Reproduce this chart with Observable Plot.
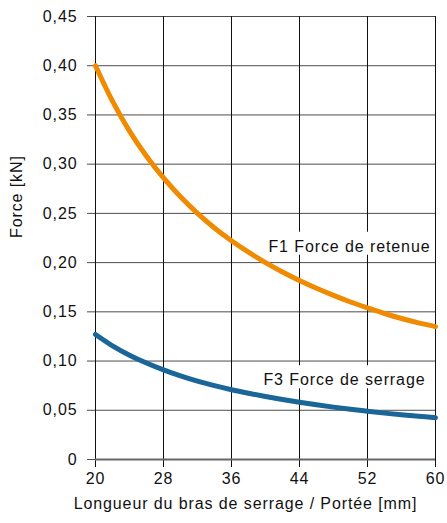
<!DOCTYPE html>
<html><head><meta charset="utf-8">
<script src="https://cdn.jsdelivr.net/npm/d3@7"></script>
<script src="https://cdn.jsdelivr.net/npm/@observablehq/plot@0.6"></script>
<style>
body{margin:0;background:#fff}
svg text{letter-spacing:0.9px}
</style></head><body><div id="chart"></div>
<script>
const lengths = [20,22,24,26,28,30,32,34,36,38,40,42,44,46,48,50,52,54,56,58,60];
const f1 = [0.4000,0.3640,0.3335,0.3080,0.2860,0.2668,0.2500,0.2352,0.2222,0.2106,0.2000,0.1905,0.1818,0.1739,0.1667,0.1600,0.1540,0.1483,0.1432,0.1388,0.1350];
const f3 = [0.1270,0.1155,0.1060,0.0980,0.0910,0.0850,0.0796,0.0750,0.0709,0.0673,0.0640,0.0610,0.0582,0.0556,0.0532,0.0510,0.0490,0.0471,0.0454,0.0439,0.0425];
const seriesNames = ["F1 Force de retenue","F3 Force de serrage"];
const seriesColors = ["#f08a00","#1b6699"];
const xTicks = [20,28,36,44,52,60];
const yTicks = [0,0.05,0.10,0.15,0.20,0.25,0.30,0.35,0.40,0.45];
const xLabel = "Longueur du bras de serrage / Portée [mm]";
const yLabel = "Force [kN]";

const font = "'Liberation Sans', Arial, Helvetica, sans-serif";
const s1 = lengths.map((x,i)=>({x, y:f1[i], s:seriesNames[0]}));
const s3 = lengths.map((x,i)=>({x, y:f3[i], s:seriesNames[1]}));
const fmt = d => d === 0 ? "0" : d.toFixed(2).replace(".", ",");

const chart = Plot.plot({
  width: 447, height: 523,
  marginLeft: 95, marginRight: 12, marginTop: 16, marginBottom: 64,
  style: {fontFamily: font, fontSize: "16px", color: "#111", background: "#fff"},
  x: {domain: [20, 60]},
  y: {domain: [0, 0.45]},
  marks: [
    Plot.gridY(yTicks, {stroke: "#4d4d4d", strokeOpacity: 1}),
    Plot.gridX(xTicks, {stroke: "#111", strokeOpacity: 1}),
    Plot.axisY(yTicks, {tickSize: 8, tickPadding: 10, tickFormat: fmt, stroke: "#4d4d4d", label: null, fontSize: 16, fontFamily: font, fill: "#111"}),
    Plot.axisX(xTicks, {tickSize: 8, tickPadding: 5, stroke: "#111", label: null, fontSize: 16, fontFamily: font, fill: "#111"}),
    Plot.ruleY([0], {stroke: "#666", strokeWidth: 2}),
    Plot.line(s1, {x: "x", y: "y", stroke: seriesColors[0], strokeWidth: 5, curve: "catmull-rom"}),
    Plot.line(s3, {x: "x", y: "y", stroke: seriesColors[1], strokeWidth: 5, curve: "catmull-rom"}),
    Plot.text(s1, Plot.selectLast({x: "x", y: "y", text: "s", textAnchor: "end", dx: -5, dy: -80, fontSize: 16, fontFamily: font, fill: "#111"})),
    Plot.text(s3, Plot.selectLast({x: "x", y: "y", text: "s", textAnchor: "end", dx: -10, dy: -37.5, fontSize: 16, fontFamily: font, fill: "#111"})),
    Plot.text([xLabel], {frameAnchor: "bottom", dx: -20, dy: 49, fontSize: 16, fontFamily: font, fill: "#111"}),
    Plot.text([yLabel], {frameAnchor: "left", rotate: -90, dx: -79, fontSize: 16, fontFamily: font, fill: "#111"})
  ]
});
document.getElementById("chart").appendChild(chart);

// white boxes behind the series labels
chart.querySelectorAll("text").forEach(t => {
  if (seriesNames.includes(t.textContent)) {
    const b = t.getBBox();
    const r = document.createElementNS("http://www.w3.org/2000/svg", "rect");
    r.setAttribute("x", b.x - 3);
    r.setAttribute("y", b.y - 6);
    r.setAttribute("width", b.width + 5);
    r.setAttribute("height", b.height + 6);
    r.setAttribute("fill", "#fff");
    const tr = t.getAttribute("transform");
    if (tr) r.setAttribute("transform", tr);
    t.parentNode.insertBefore(r, t);
  }
});
</script></body></html>
